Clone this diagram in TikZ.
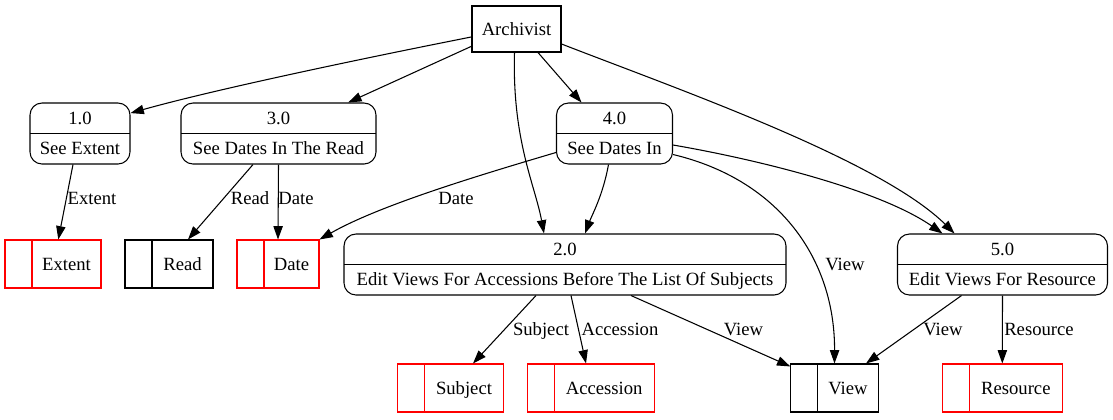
\documentclass[tikz,border=0pt]{standalone}
\usepackage{fontspec}
\setmainfont{Liberation Serif}
\usetikzlibrary{arrows.meta,calc}
\begin{document}
\begin{tikzpicture}[x=0.75pt,y=-0.75pt,
  every node/.style={font=\fontsize{14}{16.8}\selectfont},
  arr/.style={draw, line width=0.8pt, -{Triangle[length=10pt,width=7pt]}},
  ent/.style={draw, line width=0.8pt, minimum width=66.75pt, minimum height=34.5pt, inner sep=0pt},
  proc/.style={draw, rounded corners=9pt, line width=0.8pt, minimum height=45.75pt, inner sep=0pt, align=center,
    font=\fontsize{14}{22.5}\selectfont, text depth=0pt,
    path picture={\draw[line width=0.8pt] (path picture bounding box.west) -- (path picture bounding box.east);}},
  store/.style={draw=#1, line width=0.8pt, minimum height=36pt, inner sep=0pt, text height=9.5pt, text depth=0pt,
    path picture={\draw[#1,line width=0.8pt] ([xshift=20.25pt]path picture bounding box.north west) -- ([xshift=20.25pt]path picture bounding box.south west);}},
  store/.default=black,
  lbl/.style={inner sep=1pt, text height=9.5pt, text depth=0pt}]
\useasboundingbox (0,0) rectangle (1113,419);

% entity
\node[ent] (arch) at (516.5,29) {Archivist};

% processes
\node[proc, minimum width=75pt] (p1) at (80,133.5) {1.0\\See Extent};
\node[proc, minimum width=146.25pt] (p3) at (278.5,133.5) {3.0\\See Dates In The Read};
\node[proc, minimum width=87pt] (p4) at (614.5,133.5) {4.0\\See Dates In};
\node[proc, minimum width=331.5pt] (p2) at (565,264.5) {2.0\\Edit Views For Accessions Before The List Of Subjects};
\node[proc, minimum width=157.5pt] (p5) at (1002.5,264.5) {5.0\\Edit Views For Resource};

% stores
\node[store=red] (ext) at (53,264) {\makebox[20.25pt]{}\makebox[51.75pt]{Extent}};
\node[store] (read) at (169,264) {\makebox[20.25pt]{}\makebox[45.75pt]{Read}};
\node[store=red] (date) at (278,264) {\makebox[20.25pt]{}\makebox[41.25pt]{Date}};
\node[store=red] (subj) at (450.5,388) {\makebox[20.25pt]{}\makebox[59.25pt]{Subject}};
\node[store=red] (acc) at (590.7,388) {\makebox[20.25pt]{}\makebox[75.25pt]{Accession}};
\node[store] (view) at (834.5,388) {\makebox[20.25pt]{}\makebox[45.25pt]{View}};
\node[store=red] (res) at (1002.3,388) {\makebox[20.25pt]{}\makebox[70pt]{Resource}};

% edges from Archivist
\draw[arr] (arch.190) .. controls (380,55) and (220,88) .. (p1.22);
\draw[arr] (arch.201) -- (p3.24);
\draw[arr] ($(arch.south)+(21.5,0)$) -- ($(p4.north)+(-33,0)$);
\draw[arr] ($(arch.south)+(-2,0)$) .. controls (512,140) and (535,185) .. ($(p2.north)+(-21,0)$);
\draw[arr] ($(arch.east)+(0,15)$) .. controls (680,90) and (880,160) .. ($(p5.north)+(-48,0)$);

% edges from processes
\draw[arr] ($(p1.south)+(-7,0)$) -- ($(ext.north)+(5.3,0)$);
\draw[arr] ($(p3.south)+(-25.5,0)$) -- ($(read.north)+(19,0)$);
\draw[arr] (p3.south) -- (date.north);
\draw[arr] ($(p4.west)+(0,19)$) .. controls (480,175) and (380,205) .. (date.north east);
\draw[arr] ($(p4.south)+(-6,0)$) .. controls (603,195) and (592,215) .. ($(p2.north)+(20,0)$);
\draw[arr] ($(p4.east)+(0,21)$) .. controls (780,180) and (835,260) .. (view.north);
\draw[arr] ($(p4.east)+(0,11.5)$) .. controls (760,160) and (880,190) .. ($(p5.north)+(-60,0)$);
\draw[arr] ($(p2.south)+(-29,0)$) -- ($(subj.north)+(22.5,0)$);
\draw[arr] ($(p2.south)+(6,0)$) -- ($(acc.north)+(-4.7,0)$);
\draw[arr] ($(p2.south)+(66,0)$) -- (view.154);
\draw[arr] ($(p5.south)+(-41,0)$) -- ($(view.north)+(31.5,0)$);
\draw[arr] (p5.south) -- (res.north);

% labels
\node[lbl] (lext) at (92,198) {Extent};
\node[lbl] (lread) at (250,198) {Read};
\node[lbl] (ldate1) at (296,198) {Date};
\node[lbl] (ldate2) at (456,198) {Date};
\node[lbl] (lview1) at (845,264) {View};
\node[lbl] (lsubj) at (541,329) {Subject};
\node[lbl] (lacc) at (620,329) {Accession};
\node[lbl] (lview2) at (743.5,329) {View};
\node[lbl] (lview3) at (943,329) {View};
\node[lbl] (lres) at (1039,329) {Resource};
\end{tikzpicture}
\end{document}
